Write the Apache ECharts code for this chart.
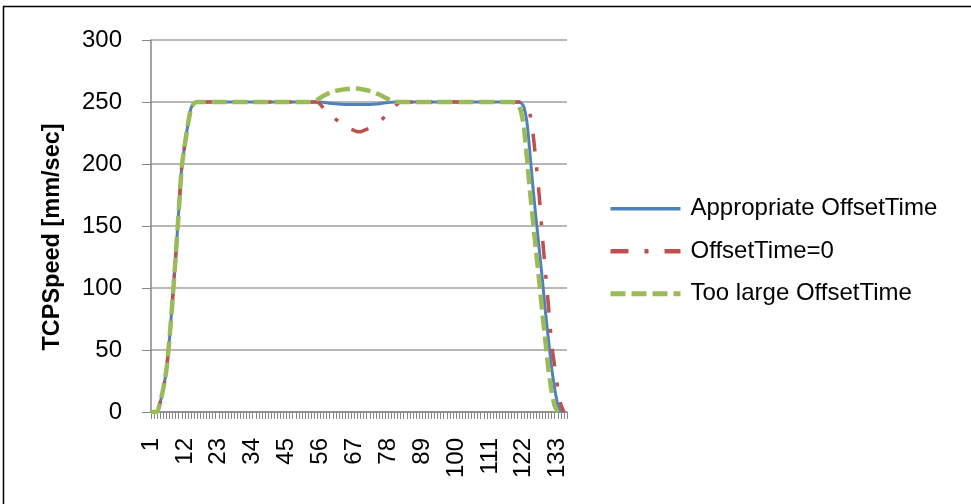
<!DOCTYPE html>
<html><head><meta charset="utf-8">
<script src="https://cdn.jsdelivr.net/npm/echarts@6/dist/echarts.min.js"></script>
<style>html,body{margin:0;padding:0;background:#fff}#c{width:971px;height:504px}</style>
</head><body><div id="c"></div>
<script>
// categories 1..136 (sample index)
const categories = [];
for (let i = 1; i <= 136; i++) categories.push(String(i));

const yTicks = [0, 50, 100, 150, 200, 250, 300];
const seriesNames = ['Appropriate OffsetTime', 'OffsetTime=0', 'Too large OffsetTime'];

// values, index 0 = category 1
const appropriate = [
  0,0,0,8,19,34,59,91,125,162,198,216,232,245,249,250,
  250,250,250,250,250,250,250,250,250,250,250,250,250,250,
  250,250,250,250,250,250,250,250,250,250,250,250,250,250,
  250,250,250,250,250,250,250,250,250,250,250,
  250,249.7,249.4,249,248.8,248.5,248.3,248.1,248,248,248,248,248,248,248,248,248,
  248.1,248.3,248.6,249,249.3,249.6,249.8,250,
  250,250,250,250,250,250,250,250,250,250,250,250,250,250,250,250,250,250,250,250,
  250,250,250,250,250,250,250,250,250,250,250,250,250,250,250,250,250,250,250,250,
  249.5,246,234,208,180,155,131,107,81,58,36,19,6,0,null,null
];
const offsetZero = [
  0,0,0,8,19,34,59,91,125,162,198,216,232,245,249,250,
  250,250,250,250,250,250,250,250,250,250,250,250,250,250,
  250,250,250,250,250,250,250,250,250,250,250,250,250,250,
  250,250,250,250,250,250,250,250,250,250,250,
  248,245,243,240,238,236,234,232,230,229,228,227,226,226,227,228,229,
  230.5,232,234,236,238.5,241,243,246,248.5,
  250,250,250,250,250,250,250,250,250,250,250,250,250,250,250,250,250,250,250,250,
  250,250,250,250,250,250,250,250,250,250,250,250,250,250,250,250,250,250,250,
  250,249,246.5,240,224,200,174,142,113,85,55,37,19,6,0,null
];
const tooLarge = [
  0,0,0,8,19,34,59,91,125,162,198,216,232,245,249,250,
  250,250,250,250,250,250,250,250,250,250,250,250,250,250,
  250,250,250,250,250,250,250,250,250,250,250,250,250,250,
  250,250,250,250,250,250,250,250,250,
  251,252,253.5,255,256.3,257.5,258.3,259,259.5,260,260.3,260.5,260.8,261,260.8,260.5,260,259.5,258.8,258,257,256,254.8,253.5,252.3,251,250.5,250,
  250,250,250,250,250,250,250,250,250,250,250,250,250,250,250,250,250,250,250,250,
  250,250,250,250,250,250,250,250,250,250,250,250,250,250,250,250,250,
  249.5,248,243,230,205,178,153,129,105,80,57,34,17,5,0,null,null
];

const FONT = '"Liberation Sans", Arial, sans-serif';
const colors = ['#4F81BD', '#C0504D', '#9BBB59'];
const chart = echarts.init(document.getElementById('c'), null, {renderer: 'canvas'});
chart.setOption({
  animation: false,
  backgroundColor: '#fff',
  graphic: [
    {type: 'line', shape: {x1: 3, y1: 6.5, x2: 971, y2: 6.5}, style: {stroke: '#000', lineWidth: 1.5}},
    {type: 'line', shape: {x1: 3.5, y1: 6, x2: 3.5, y2: 504}, style: {stroke: '#000', lineWidth: 1.5}}
  ],
  grid: {left: 151, right: 404, top: 40, bottom: 92, containLabel: false},
  legend: {
    orient: 'vertical', left: 603, top: 190,
    itemWidth: 70, itemHeight: 14, itemGap: 15,
    itemStyle: {opacity: 0},
    textStyle: {fontFamily: FONT, fontSize: 24, color: '#000', lineHeight: 27.5, padding: [0, 0, 0, 5]},
    data: [
      {name: seriesNames[0], lineStyle: {width: 3.5, color: colors[0], type: 'solid'}},
      {name: seriesNames[1], lineStyle: {width: 4.5, color: colors[1], type: [18, 16, 4, 16]}},
      {name: seriesNames[2], lineStyle: {width: 5, color: colors[2], type: [15, 6]}}
    ]
  },
  xAxis: {
    type: 'category', data: categories, boundaryGap: false,
    axisLine: {lineStyle: {color: '#868686', width: 1.5}},
    axisTick: {show: true, interval: 0, length: 7, lineStyle: {color: '#868686'}},
    axisLabel: {interval: 10, rotate: 90, margin: 26, fontFamily: FONT, fontSize: 24, color: '#000'},
    splitLine: {show: false}
  },
  yAxis: {
    type: 'value', min: yTicks[0], max: yTicks[yTicks.length - 1], interval: 50,
    name: 'TCPSpeed [mm/sec]', nameLocation: 'middle', nameGap: 86,
    nameTextStyle: {fontFamily: FONT, fontSize: 23.5, fontWeight: 'bold', color: '#000', padding: [0, 22, 0, 0]},
    axisLine: {show: true, lineStyle: {color: '#868686', width: 1.5}},
    axisTick: {show: true, inside: false, length: 9, lineStyle: {color: '#868686'}},
    axisLabel: {margin: 29, fontFamily: FONT, fontSize: 24, color: '#000'},
    splitLine: {lineStyle: {color: '#a0a0a0', width: 1.5}}
  },
  series: [
    {name: seriesNames[0], type: 'line', data: appropriate, showSymbol: false, symbol: 'none',
     smooth: 0.2, color: colors[0], lineStyle: {width: 3, color: colors[0]}},
    {name: seriesNames[1], type: 'line', data: offsetZero, showSymbol: false, symbol: 'none',
     smooth: 0.2, color: colors[1], lineStyle: {width: 3.5, color: colors[1], type: [18, 16, 4, 16]}},
    {name: seriesNames[2], type: 'line', data: tooLarge, showSymbol: false, symbol: 'none',
     smooth: 0.2, color: colors[2], lineStyle: {width: 4.5, color: colors[2], type: [15, 6]}}
  ]
});
</script></body></html>
